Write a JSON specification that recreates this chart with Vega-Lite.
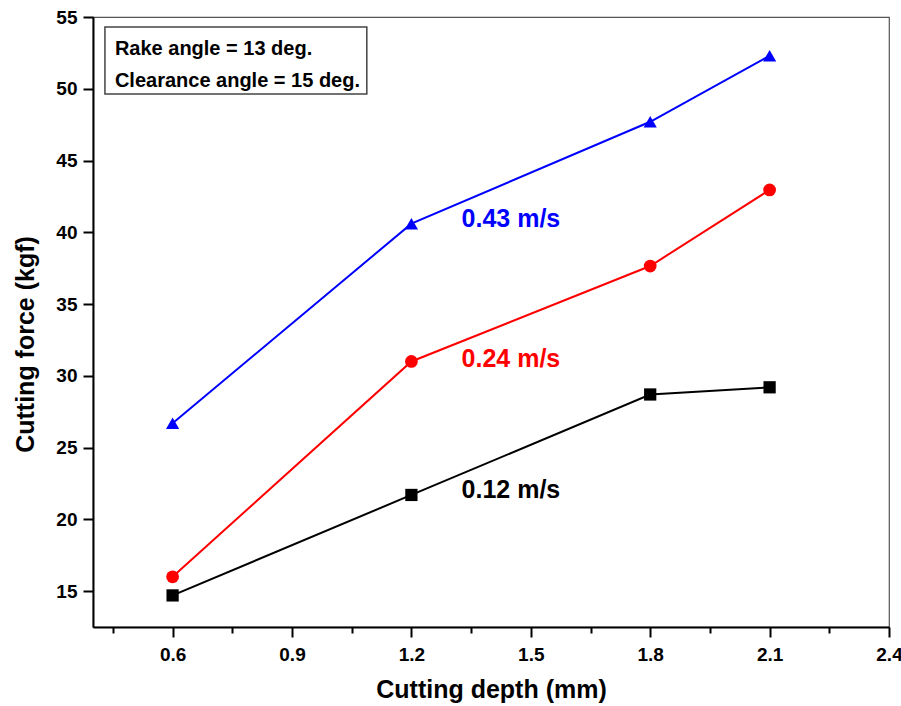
{
  "$schema": "https://vega.github.io/schema/vega-lite/v6.json",
  "width": 796,
  "height": 610,
  "autosize": {"type": "none"},
  "padding": {"left": 93, "top": 17, "right": 12, "bottom": 79},
  "background": "white",
  "config": {
    "view": {"stroke": "#555555", "strokeWidth": 1.2},
    "font": "Liberation Sans",
    "axis": {
      "domainColor": "#000000",
      "domainWidth": 2,
      "tickColor": "#000000",
      "tickWidth": 2,
      "labelFont": "Liberation Sans",
      "labelFontWeight": "bold",
      "labelFontSize": 19,
      "labelColor": "#000000",
      "titleFont": "Liberation Sans",
      "titleFontWeight": "bold",
      "titleFontSize": 25,
      "titleColor": "#000000",
      "grid": false,
      "labelOverlap": false,
      "labelFlush": false,
      "labelBound": false
    }
  },
  "datasets": {
    "series": [
      {"depth": 0.6, "force": 14.7, "speed": "0.12 m/s"},
      {"depth": 1.2, "force": 21.7, "speed": "0.12 m/s"},
      {"depth": 1.8, "force": 28.7, "speed": "0.12 m/s"},
      {"depth": 2.1, "force": 29.2, "speed": "0.12 m/s"},
      {"depth": 0.6, "force": 16.0, "speed": "0.24 m/s"},
      {"depth": 1.2, "force": 31.0, "speed": "0.24 m/s"},
      {"depth": 1.8, "force": 37.65, "speed": "0.24 m/s"},
      {"depth": 2.1, "force": 42.95, "speed": "0.24 m/s"},
      {"depth": 0.6, "force": 26.7, "speed": "0.43 m/s"},
      {"depth": 1.2, "force": 40.6, "speed": "0.43 m/s"},
      {"depth": 1.8, "force": 47.7, "speed": "0.43 m/s"},
      {"depth": 2.1, "force": 52.3, "speed": "0.43 m/s"}
    ],
    "labels": [
      {"depth": 1.326, "force": 21.5, "speed": "0.12 m/s"},
      {"depth": 1.326, "force": 30.6, "speed": "0.24 m/s"},
      {"depth": 1.326, "force": 40.4, "speed": "0.43 m/s"}
    ],
    "box": [
      {"x1": 0.430, "x2": 1.088, "y1": 54.3, "y2": 49.63}
    ],
    "notes": [
      {"depth": 0.455, "force": 52.35, "note": "Rake angle = 13 deg."},
      {"depth": 0.455, "force": 50.1, "note": "Clearance angle = 15 deg."}
    ]
  },
  "layer": [
    {
      "data": {"name": "series"},
      "mark": {"type": "line", "strokeWidth": 2},
      "encoding": {
        "x": {
          "field": "depth",
          "type": "quantitative",
          "scale": {"domain": [0.4, 2.4], "nice": false, "zero": false},
          "axis": {
            "title": "Cutting depth (mm)",
            "values": [0.45, 0.6, 0.75, 0.9, 1.05, 1.2, 1.35, 1.5, 1.65, 1.8, 1.95, 2.1, 2.25, 2.4],
            "labelExpr": "abs(datum.value/0.3 - round(datum.value/0.3)) < 0.01 ? format(datum.value, '.1f') : ''",
            "tickSize": {"condition": {"test": "abs(datum.value/0.3 - round(datum.value/0.3)) < 0.01", "value": 10}, "value": 6},
            "labelPadding": 8,
            "titleY": 70,
            "titleBaseline": "alphabetic"
          }
        },
        "y": {
          "field": "force",
          "type": "quantitative",
          "scale": {"domain": [12.5, 55], "nice": false, "zero": false},
          "axis": {
            "title": "Cutting force (kgf)",
            "values": [15, 17.5, 20, 22.5, 25, 27.5, 30, 32.5, 35, 37.5, 40, 42.5, 45, 47.5, 50, 52.5, 55],
            "labelExpr": "datum.value % 5 == 0 ? datum.label : ''",
            "tickSize": {"condition": {"test": "datum.value % 5 == 0", "value": 10}, "value": 6},
            "labelPadding": 6,
            "titleX": -59.5,
            "titleY": 327,
            "titleBaseline": "alphabetic"
          }
        },
        "color": {
          "field": "speed",
          "type": "nominal",
          "scale": {"domain": ["0.12 m/s", "0.24 m/s", "0.43 m/s"], "range": ["#000000", "#ff0000", "#0000ff"]},
          "legend": null
        }
      }
    },
    {
      "data": {"name": "series"},
      "mark": {"type": "point", "filled": true, "opacity": 1},
      "encoding": {
        "x": {"field": "depth", "type": "quantitative"},
        "y": {"field": "force", "type": "quantitative"},
        "color": {"field": "speed", "type": "nominal", "legend": null},
        "shape": {
          "field": "speed",
          "type": "nominal",
          "scale": {"domain": ["0.12 m/s", "0.24 m/s", "0.43 m/s"], "range": ["square", "circle", "triangle-up"]},
          "legend": null
        },
        "size": {
          "field": "speed",
          "type": "nominal",
          "scale": {"domain": ["0.12 m/s", "0.24 m/s", "0.43 m/s"], "range": [150, 175, 240]},
          "legend": null
        }
      }
    },
    {
      "data": {"name": "labels"},
      "mark": {"type": "text", "align": "left", "baseline": "alphabetic", "fontSize": 25, "fontWeight": "bold", "font": "Liberation Sans"},
      "encoding": {
        "x": {"field": "depth", "type": "quantitative"},
        "y": {"field": "force", "type": "quantitative"},
        "text": {"field": "speed"},
        "color": {"field": "speed", "type": "nominal", "legend": null}
      }
    },
    {
      "data": {"name": "box"},
      "mark": {"type": "rect", "fill": "white", "stroke": "#444444", "strokeWidth": 1.5},
      "encoding": {
        "x": {"field": "x1", "type": "quantitative"},
        "x2": {"field": "x2"},
        "y": {"field": "y1", "type": "quantitative"},
        "y2": {"field": "y2"}
      }
    },
    {
      "data": {"name": "notes"},
      "mark": {"type": "text", "align": "left", "baseline": "alphabetic", "fontSize": 20, "fontWeight": "bold", "font": "Liberation Sans", "color": "#000000"},
      "encoding": {
        "x": {"field": "depth", "type": "quantitative"},
        "y": {"field": "force", "type": "quantitative"},
        "text": {"field": "note"}
      }
    }
  ]
}
